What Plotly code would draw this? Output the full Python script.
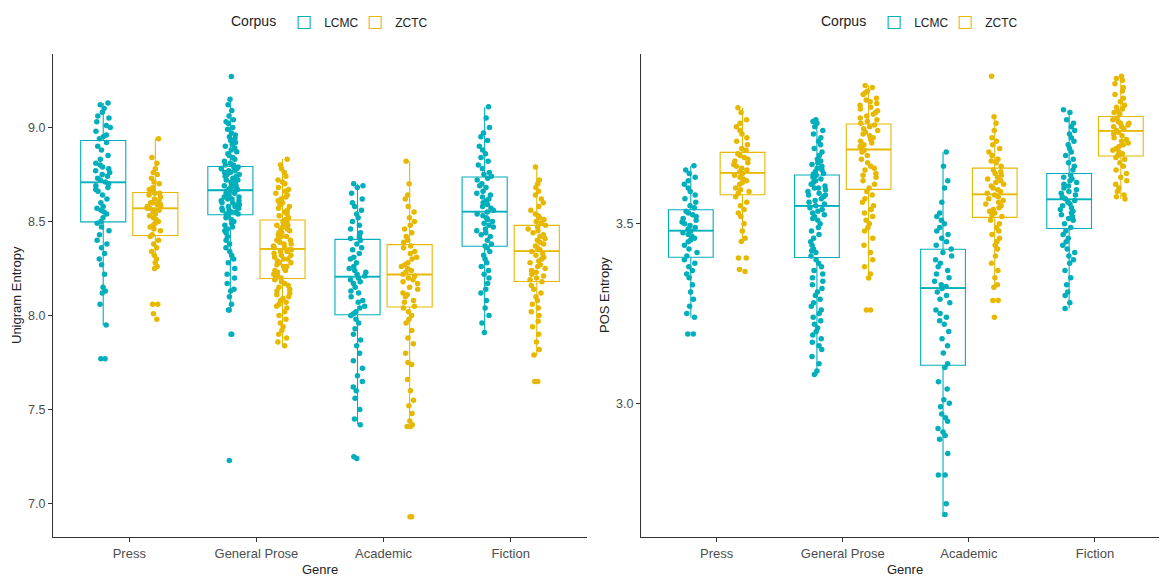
import plotly.graph_objects as go

genres = ["Press", "General Prose", "Academic", "Fiction"]
corpora = ["LCMC", "ZCTC"]
colors = {"LCMC": "#00AFBB", "ZCTC": "#E7B800"}

# ---------------- Unigram entropy: box statistics ----------------
uni_lcmc_q1 = [8.498, 8.536, 8.004, 8.368]
uni_lcmc_med = [8.708, 8.666, 8.207, 8.552]
uni_lcmc_q3 = [8.930, 8.792, 8.405, 8.736]
uni_lcmc_lo = [7.949, 8.027, 7.424, 7.913]
uni_lcmc_hi = [9.130, 9.151, 8.701, 9.107]

uni_zctc_q1 = [8.425, 8.197, 8.045, 8.181]
uni_zctc_med = [8.570, 8.354, 8.218, 8.342]
uni_zctc_q3 = [8.654, 8.508, 8.377, 8.479]
uni_zctc_lo = [8.246, 7.838, 7.415, 7.787]
uni_zctc_hi = [8.941, 8.832, 8.820, 8.792]

# ---------------- Unigram entropy: individual texts ----------------
uni_lcmc_press = [9.13, 9.12, 9.10, 9.08, 9.06, 9.05, 9.03, 9.01, 9.00, 8.98, 8.96, 8.95, 8.94,
                  8.92, 8.90, 8.88, 8.85, 8.83, 8.81, 8.80, 8.79, 8.78, 8.77, 8.76, 8.75, 8.74, 8.73, 8.72,
                  8.71, 8.70, 8.69, 8.68, 8.67, 8.66, 8.64, 8.62, 8.60, 8.58, 8.57, 8.56, 8.55, 8.54, 8.52, 8.50,
                  8.49, 8.47, 8.45, 8.43, 8.40, 8.38, 8.36, 8.33, 8.30, 8.27, 8.22, 8.15, 8.13, 8.12, 8.06, 7.95,
                  7.77, 7.77]
uni_lcmc_gen = [9.27, 9.15, 9.12, 9.09, 9.06, 9.04, 9.03, 9.02, 9.00, 8.99, 8.97, 8.96, 8.95, 8.94, 8.93,
                8.92, 8.91, 8.90, 8.89, 8.88, 8.87, 8.86, 8.85, 8.84, 8.83, 8.82, 8.81, 8.80, 8.80,
                8.79, 8.79, 8.78, 8.78, 8.77, 8.77, 8.76, 8.76, 8.75, 8.75, 8.74, 8.74, 8.73, 8.73, 8.72,
                8.72, 8.71, 8.71, 8.70, 8.70, 8.69, 8.69, 8.68, 8.68, 8.67, 8.67,
                8.66, 8.66, 8.65, 8.65, 8.64, 8.64, 8.63, 8.63, 8.62, 8.62, 8.61, 8.61, 8.60, 8.60, 8.59,
                8.59, 8.58, 8.58, 8.57, 8.57, 8.56, 8.56, 8.55, 8.55, 8.54, 8.54,
                8.53, 8.52, 8.51, 8.50, 8.49, 8.48, 8.47, 8.46, 8.45, 8.44, 8.42, 8.40, 8.38, 8.36, 8.34,
                8.32, 8.30, 8.28, 8.25, 8.22, 8.20, 8.17, 8.14, 8.13, 8.10, 8.06, 8.03, 8.03, 7.90, 7.90, 7.23]
uni_lcmc_acad = [8.70, 8.69, 8.68, 8.65, 8.62, 8.60, 8.58, 8.56, 8.54, 8.52, 8.50, 8.48, 8.46, 8.44, 8.42, 8.41,
                 8.40, 8.38, 8.36, 8.35, 8.33, 8.31, 8.30, 8.28, 8.26, 8.25, 8.24, 8.23, 8.22, 8.21,
                 8.20, 8.19, 8.18, 8.17, 8.15, 8.13, 8.12, 8.10, 8.08, 8.07, 8.05, 8.04, 8.02, 8.01,
                 8.00, 7.98, 7.96, 7.93, 7.90, 7.87, 7.84, 7.80, 7.76, 7.72, 7.68, 7.65, 7.62, 7.60, 7.56,
                 7.50, 7.45, 7.42, 7.25, 7.24]
uni_lcmc_fic = [9.11, 9.05, 9.00, 8.97, 8.95, 8.93, 8.90, 8.88, 8.86, 8.84, 8.82, 8.80, 8.78, 8.76, 8.75, 8.74,
                8.73, 8.72, 8.70, 8.69, 8.68, 8.66, 8.65, 8.64, 8.63, 8.62, 8.61, 8.60, 8.59, 8.58, 8.57, 8.56,
                8.55, 8.54, 8.53, 8.52, 8.51, 8.50, 8.49, 8.48, 8.47, 8.46, 8.45, 8.44, 8.43, 8.42, 8.40, 8.38,
                8.37, 8.36, 8.34, 8.32, 8.30, 8.28, 8.26, 8.24, 8.22, 8.20, 8.17, 8.14, 8.12, 8.08, 8.04,
                8.00, 7.96, 7.91]

uni_zctc_press = [8.94, 8.84, 8.81, 8.78, 8.76, 8.75, 8.73, 8.71, 8.70, 8.68, 8.67, 8.66, 8.65,
                  8.65, 8.64, 8.63, 8.62, 8.61, 8.60, 8.60, 8.59, 8.59, 8.58, 8.58, 8.57, 8.57,
                  8.56, 8.56, 8.55, 8.54, 8.53, 8.52, 8.51, 8.50, 8.49, 8.48, 8.47, 8.46, 8.45, 8.43,
                  8.42, 8.40, 8.38, 8.36, 8.34, 8.32, 8.30, 8.28, 8.26, 8.25, 8.06, 8.06, 8.01, 7.98]
uni_zctc_gen = [8.83, 8.80, 8.78, 8.76, 8.74, 8.72, 8.71, 8.70, 8.68, 8.67, 8.66, 8.65, 8.64, 8.63, 8.62,
                8.61, 8.60, 8.59, 8.58, 8.57, 8.56, 8.55, 8.54, 8.53, 8.52, 8.51,
                8.50, 8.50, 8.49, 8.48, 8.48, 8.47, 8.46, 8.46, 8.45, 8.44, 8.44, 8.43, 8.42, 8.42, 8.41,
                8.40, 8.40, 8.39, 8.38, 8.38, 8.37, 8.36, 8.36, 8.35,
                8.35, 8.34, 8.34, 8.33, 8.32, 8.32, 8.31, 8.30, 8.30, 8.29, 8.28, 8.28, 8.27, 8.26, 8.26,
                8.25, 8.24, 8.24, 8.23, 8.22, 8.22, 8.21, 8.20, 8.20,
                8.19, 8.18, 8.17, 8.16, 8.15, 8.14, 8.13, 8.12, 8.11, 8.10, 8.09, 8.08, 8.07, 8.06, 8.05,
                8.04, 8.02, 8.00, 7.98, 7.96, 7.94, 7.92, 7.90, 7.88, 7.86, 7.84]
uni_zctc_acad = [8.82, 8.70, 8.64, 8.62, 8.58, 8.55, 8.52, 8.50, 8.48, 8.46, 8.44, 8.42, 8.40, 8.39,
                 8.37, 8.36, 8.34, 8.33, 8.31, 8.30, 8.28, 8.27, 8.26, 8.25, 8.24, 8.23, 8.22,
                 8.21, 8.20, 8.19, 8.18, 8.17, 8.15, 8.14, 8.12, 8.11, 8.10, 8.08, 8.07, 8.05,
                 8.04, 8.02, 8.00, 7.98, 7.96, 7.92, 7.88, 7.85, 7.80, 7.75, 7.74, 7.66, 7.60, 7.55, 7.52,
                 7.48, 7.44, 7.42, 7.41, 7.41, 6.93, 6.93]
uni_zctc_fic = [8.79, 8.72, 8.70, 8.68, 8.66, 8.64, 8.62, 8.60, 8.58, 8.56, 8.54, 8.53, 8.52, 8.51, 8.50, 8.49,
                8.48, 8.47, 8.46, 8.45, 8.44, 8.43, 8.42, 8.41, 8.40, 8.39, 8.38, 8.37, 8.36, 8.35,
                8.34, 8.33, 8.32, 8.31, 8.30, 8.29, 8.28, 8.27, 8.26, 8.25, 8.24, 8.23, 8.22, 8.21, 8.20, 8.19,
                8.18, 8.16, 8.14, 8.12, 8.10, 8.08, 8.06, 8.04, 8.02, 8.00, 7.97, 7.94, 7.90, 7.86, 7.82,
                7.79, 7.65, 7.65]

# ---------------- POS entropy: box statistics ----------------
pos_lcmc_q1 = [3.407, 3.406, 3.106, 3.487]
pos_lcmc_med = [3.481, 3.550, 3.321, 3.568]
pos_lcmc_q3 = [3.539, 3.636, 3.429, 3.640]
pos_lcmc_lo = [3.239, 3.078, 2.683, 3.264]
pos_lcmc_hi = [3.662, 3.791, 3.699, 3.818]

pos_zctc_q1 = [3.581, 3.596, 3.518, 3.689]
pos_zctc_med = [3.642, 3.707, 3.582, 3.759]
pos_zctc_q3 = [3.699, 3.778, 3.655, 3.799]
pos_zctc_lo = [3.451, 3.349, 3.323, 3.569]
pos_zctc_hi = [3.823, 3.885, 3.798, 3.911]

# ---------------- POS entropy: individual texts ----------------
pos_lcmc_press = [3.662, 3.65, 3.64, 3.63, 3.62, 3.61, 3.60, 3.59, 3.58, 3.57, 3.56, 3.55, 3.545,
                  3.535, 3.53, 3.525, 3.52, 3.515, 3.51, 3.505, 3.50, 3.495, 3.49, 3.485,
                  3.48, 3.475, 3.47, 3.465, 3.46, 3.455, 3.45, 3.44, 3.43, 3.42, 3.41,
                  3.40, 3.39, 3.38, 3.37, 3.36, 3.35, 3.33, 3.31, 3.29, 3.27, 3.25, 3.24, 3.193, 3.193]
pos_lcmc_gen = [3.79, 3.785, 3.78, 3.77, 3.76, 3.75, 3.74, 3.73, 3.72, 3.71, 3.70, 3.69, 3.68, 3.675, 3.67,
                3.665, 3.66, 3.655, 3.65, 3.645, 3.64, 3.638,
                3.635, 3.63, 3.625, 3.62, 3.615, 3.61, 3.605, 3.60, 3.60, 3.595, 3.59, 3.585, 3.58, 3.58,
                3.575, 3.57, 3.565, 3.56, 3.555, 3.55,
                3.545, 3.54, 3.535, 3.53, 3.525, 3.52, 3.515, 3.51, 3.50, 3.49, 3.48, 3.47, 3.46, 3.45,
                3.44, 3.43, 3.425, 3.42, 3.41,
                3.40, 3.39, 3.38, 3.37, 3.36, 3.35, 3.34, 3.33, 3.32, 3.31, 3.30, 3.29, 3.28, 3.27, 3.26,
                3.25, 3.24, 3.23, 3.22, 3.21, 3.20, 3.19, 3.18, 3.17, 3.16, 3.15, 3.13, 3.11, 3.09, 3.08]
pos_lcmc_acad = [3.70, 3.66, 3.62, 3.60, 3.56, 3.53, 3.52, 3.51, 3.50, 3.49, 3.48, 3.47, 3.46, 3.45, 3.44, 3.43,
                 3.42, 3.41, 3.40, 3.39, 3.38, 3.37, 3.36, 3.35, 3.34, 3.33, 3.325,
                 3.32, 3.31, 3.30, 3.29, 3.28, 3.26, 3.25, 3.24, 3.23, 3.22, 3.20, 3.18, 3.16, 3.14, 3.11,
                 3.10, 3.06, 3.04, 3.01, 3.00, 2.99, 2.97, 2.96, 2.95, 2.93, 2.92, 2.91, 2.90, 2.86,
                 2.80, 2.80, 2.72, 2.69]
pos_lcmc_fic = [3.818, 3.81, 3.79, 3.78, 3.77, 3.76, 3.75, 3.74, 3.73, 3.72, 3.71, 3.70, 3.69, 3.68, 3.67,
                3.66, 3.65,
                3.635, 3.63, 3.625, 3.62, 3.615, 3.61, 3.605, 3.60, 3.595, 3.59, 3.585, 3.58, 3.575, 3.57,
                3.565, 3.56, 3.555, 3.55, 3.545, 3.54, 3.535, 3.53, 3.525, 3.52, 3.515, 3.51, 3.50, 3.49,
                3.48, 3.47, 3.46, 3.45, 3.44, 3.43, 3.42, 3.41, 3.40, 3.39, 3.37, 3.35, 3.33, 3.31, 3.30,
                3.28, 3.264]

pos_zctc_press = [3.823, 3.81, 3.79, 3.78, 3.77, 3.76, 3.75, 3.74, 3.73, 3.72, 3.71, 3.705,
                  3.695, 3.69, 3.685, 3.68, 3.675, 3.67, 3.665, 3.66, 3.655, 3.65, 3.645,
                  3.64, 3.635, 3.63, 3.625, 3.62, 3.615, 3.61, 3.60, 3.595, 3.59, 3.585,
                  3.575, 3.56, 3.55, 3.54, 3.53, 3.52, 3.50, 3.48, 3.46, 3.451, 3.405, 3.405, 3.373, 3.367]
pos_zctc_gen = [3.885, 3.88, 3.87, 3.865, 3.86, 3.85, 3.845, 3.84, 3.835, 3.83, 3.825, 3.82, 3.815, 3.81,
                3.805, 3.80, 3.795, 3.79, 3.785, 3.78,
                3.775, 3.77, 3.765, 3.76, 3.755, 3.75, 3.745, 3.74, 3.735, 3.73, 3.725, 3.72, 3.715, 3.71,
                3.705, 3.70, 3.69, 3.68, 3.67, 3.66, 3.655, 3.65, 3.64, 3.635, 3.63, 3.62, 3.61, 3.60,
                3.59, 3.58, 3.57, 3.56, 3.55, 3.54, 3.53, 3.52, 3.51, 3.50, 3.49, 3.48, 3.46, 3.44, 3.42,
                3.40, 3.38, 3.36, 3.349, 3.26, 3.26]
pos_zctc_acad = [3.911, 3.798, 3.78, 3.76, 3.74, 3.73, 3.72, 3.71, 3.70, 3.69, 3.68, 3.675, 3.67, 3.66,
                 3.65, 3.645, 3.64, 3.635, 3.63, 3.625, 3.62, 3.615, 3.61, 3.605, 3.60, 3.595, 3.59, 3.585,
                 3.58, 3.575, 3.57, 3.565, 3.56, 3.555, 3.55, 3.545, 3.54, 3.535, 3.53, 3.525, 3.52,
                 3.51, 3.50, 3.49, 3.48, 3.47, 3.46, 3.45, 3.44, 3.43, 3.41, 3.39, 3.37, 3.35, 3.33, 3.323,
                 3.286, 3.286, 3.24]
pos_zctc_fic = [3.911, 3.905, 3.90, 3.89, 3.88, 3.87, 3.86, 3.85, 3.84, 3.83, 3.825, 3.82, 3.815, 3.81, 3.805,
                3.795, 3.79, 3.785, 3.78, 3.78, 3.775, 3.77, 3.77, 3.765, 3.76,
                3.755, 3.75, 3.745, 3.74, 3.735, 3.73, 3.725, 3.72, 3.715, 3.71, 3.705, 3.70, 3.695, 3.69,
                3.685, 3.68, 3.67, 3.66, 3.65, 3.64, 3.63, 3.62, 3.61, 3.60, 3.59, 3.58, 3.575, 3.569]

panels = {
    "uni": {
        "LCMC": dict(q1=uni_lcmc_q1, med=uni_lcmc_med, q3=uni_lcmc_q3, lo=uni_lcmc_lo, hi=uni_lcmc_hi,
                     pts=[uni_lcmc_press, uni_lcmc_gen, uni_lcmc_acad, uni_lcmc_fic]),
        "ZCTC": dict(q1=uni_zctc_q1, med=uni_zctc_med, q3=uni_zctc_q3, lo=uni_zctc_lo, hi=uni_zctc_hi,
                     pts=[uni_zctc_press, uni_zctc_gen, uni_zctc_acad, uni_zctc_fic]),
    },
    "pos": {
        "LCMC": dict(q1=pos_lcmc_q1, med=pos_lcmc_med, q3=pos_lcmc_q3, lo=pos_lcmc_lo, hi=pos_lcmc_hi,
                     pts=[pos_lcmc_press, pos_lcmc_gen, pos_lcmc_acad, pos_lcmc_fic]),
        "ZCTC": dict(q1=pos_zctc_q1, med=pos_zctc_med, q3=pos_zctc_q3, lo=pos_zctc_lo, hi=pos_zctc_hi,
                     pts=[pos_zctc_press, pos_zctc_gen, pos_zctc_acad, pos_zctc_fic]),
    },
}

fig = go.Figure()
axes = {"uni": ("x", "y", "legend"), "pos": ("x2", "y2", "legend2")}

for key in ["uni", "pos"]:
    xa, ya, lg = axes[key]
    for c in corpora:
        d = panels[key][c]
        # box outline + whiskers
        fig.add_trace(go.Box(
            x=genres, q1=d["q1"], median=d["med"], q3=d["q3"],
            lowerfence=d["lo"], upperfence=d["hi"],
            name=c, offsetgroup=c, boxpoints=False,
            line=dict(color=colors[c], width=1.1), whiskerwidth=0,
            fillcolor="rgba(255,255,255,0)", marker=dict(color=colors[c]),
            xaxis=xa, yaxis=ya, legend=lg, showlegend=True, hoverinfo="skip",
        ))
        # thicker median bar (ggplot fatten)
        fig.add_trace(go.Box(
            x=genres, q1=d["med"], median=d["med"], q3=d["med"],
            lowerfence=d["med"], upperfence=d["med"],
            name=c, offsetgroup=c, boxpoints=False,
            line=dict(color=colors[c], width=1.8), whiskerwidth=0,
            fillcolor="rgba(255,255,255,0)",
            xaxis=xa, yaxis=ya, showlegend=False, hoverinfo="skip",
        ))
    for c in corpora:
        d = panels[key][c]
        xs, ys = [], []
        for g, vals in zip(genres, d["pts"]):
            xs += [g] * len(vals)
            ys += vals
        fig.add_trace(go.Box(
            x=xs, y=ys, name=c, offsetgroup=c, boxpoints="all", jitter=0.42, pointpos=0,
            line=dict(width=0, color="rgba(0,0,0,0)"), fillcolor="rgba(0,0,0,0)",
            whiskerwidth=0,
            marker=dict(color=colors[c], size=5.5, line=dict(width=0)),
            xaxis=xa, yaxis=ya, showlegend=False,
        ))

font_family = "Arial, Liberation Sans, sans-serif"
axis_common = dict(showline=True, linecolor="#333333", linewidth=1, ticks="outside", ticklen=4,
                   tickcolor="#333333", showgrid=False, zeroline=False, automargin=False)

# page body has an 8px margin: figure is drawn from (8, 8) in the window
OFF = 8
W, H = 1167 - OFF, 577 - OFF
ml, mt = 53 - OFF, 48 - OFF
mb = H - (537 - OFF)
pw, ph = W - ml, H - mt - mb


def px_x(p):
    return (p - OFF - ml) / pw


def px_y(p):
    return (H - mb - (p - OFF)) / ph


legend_common = dict(orientation="h", xanchor="left", yanchor="middle",
                     title=dict(text="Corpus", font=dict(size=14, color="#222222"), side="left"),
                     font=dict(size=12, color="#222222"), bgcolor="rgba(0,0,0,0)",
                     itemwidth=30, entrywidth=26, entrywidthmode="pixels", borderwidth=0)

fig.update_layout(
    width=W, height=H,
    margin=dict(l=ml, r=0, t=mt, b=mb),
    paper_bgcolor="white", plot_bgcolor="white",
    font=dict(family=font_family, color="#4d4d4d", size=12),
    boxmode="group", boxgap=0.18, boxgroupgap=0.135,
    xaxis=dict(domain=[0, px_x(587)], anchor="y", categoryorder="array", categoryarray=genres,
               range=[-0.6, 3.6], tickfont=dict(size=13, color="#4d4d4d"), **axis_common),
    yaxis=dict(domain=[0, 1], anchor="x", range=[6.823, 9.39], tickvals=[7.0, 7.5, 8.0, 8.5, 9.0],
               tickformat=".1f", tickfont=dict(size=12.5, color="#4d4d4d"), **axis_common),
    xaxis2=dict(domain=[px_x(641), 1], anchor="y2", categoryorder="array", categoryarray=genres,
                range=[-0.6, 3.571], tickfont=dict(size=13, color="#4d4d4d"), **axis_common),
    yaxis2=dict(domain=[0, 1], anchor="x2", range=[2.6275, 3.973], tickvals=[3.0, 3.5],
                tickformat=".1f", tickfont=dict(size=12.5, color="#4d4d4d"), **axis_common),
    legend=dict(x=px_x(229), y=px_y(16), **legend_common),
    legend2=dict(x=px_x(819), y=px_y(16), **legend_common),
    annotations=[
        dict(text="Unigram Entropy", x=px_x(16), y=px_y(292), xref="paper", yref="paper",
             xanchor="center", yanchor="middle",
             textangle=-90, showarrow=False, font=dict(size=13, color="#222222")),
        dict(text="POS Entropy", x=px_x(604), y=px_y(292), xref="paper", yref="paper",
             xanchor="center", yanchor="middle",
             textangle=-90, showarrow=False, font=dict(size=13, color="#222222")),
        dict(text="Genre", x=px_x(320), y=px_y(570), xref="paper", yref="paper",
             xanchor="center", yanchor="middle",
             showarrow=False, font=dict(size=13, color="#222222")),
        dict(text="Genre", x=px_x(905), y=px_y(570), xref="paper", yref="paper",
             xanchor="center", yanchor="middle",
             showarrow=False, font=dict(size=13, color="#222222")),
    ],
)

fig.write_html("out.html")
